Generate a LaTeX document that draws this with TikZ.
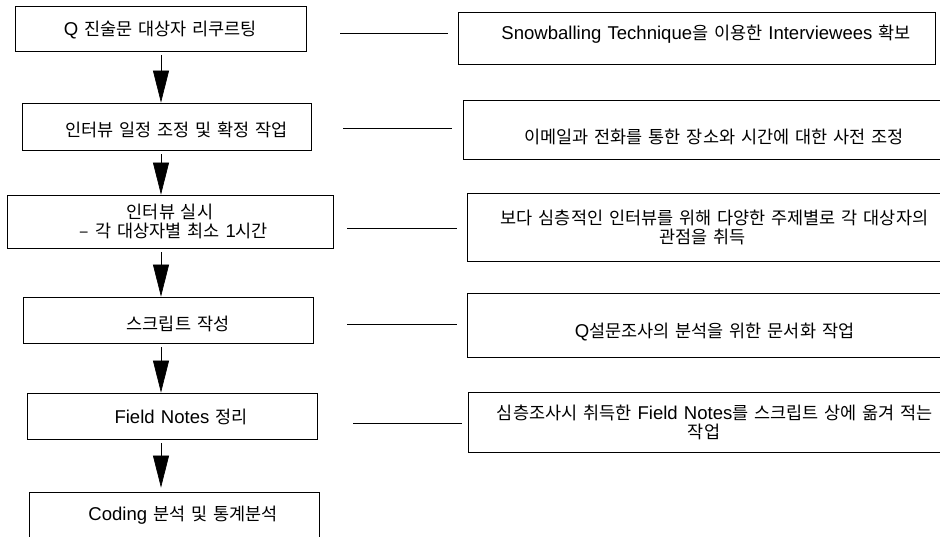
\documentclass[tikz,border=0pt]{standalone}
\usepackage{fontspec}
\setmainfont[WordSpace=1.5]{Noto Sans CJK KR}
\newfontfamily\lat[WordSpace=1.2,Scale=1.06]{Liberation Sans}
\usetikzlibrary{arrows.meta}
\newcommand\shiftv[2]{\raisebox{#1pt}[\height][\depth]{#2}}
\begin{document}
\begin{tikzpicture}[x=1pt,y=-1pt,
  every node/.style={font=\fontsize{17.5}{19}\selectfont},
  lbox/.style={draw=black,line width=0.8pt,rectangle,inner sep=0pt,align=center},
  rbox/.style={draw=black,line width=0.9pt,rectangle,inner sep=0pt,align=center},
  link/.style={draw=black,line width=0.8pt},
  flow/.style={draw=black,line width=0.6pt,-{Triangle[length=32pt,width=16pt]}}]
\useasboundingbox (0,0) rectangle (940,537);
\clip (0,0) rectangle (940,537);
\fill[white] (0,0) rectangle (940,537);
% left boxes
\node[lbox,minimum width=291pt,minimum height=45pt] (b1) at (160.5,28.5) {\shiftv{-2}{{\lat Q} 진술문 대상자 리쿠르팅}};
\node[lbox,minimum width=289pt,minimum height=47pt] (b2) at (166.5,126.5) {\hspace*{20pt}\shiftv{-3}{인터뷰 일정 조정 및 확정 작업}};
\node[lbox,minimum width=326pt,minimum height=53pt] (b3) at (170,221.5) {인터뷰 실시\\\hspace*{8pt}– 각 대상자별 최소 {\lat 1}시간};
\node[lbox,minimum width=290pt,minimum height=46pt] (b4) at (168,320) {\hspace*{20pt}\shiftv{-4}{스크립트 작성}};
\node[lbox,minimum width=290pt,minimum height=46pt] (b5) at (172,416) {\hspace*{18pt}\shiftv{-1}{{\lat Field Notes} 정리}};
\node[lbox,minimum width=290pt,minimum height=46pt] (b6) at (174,515) {\hspace*{18pt}{\lat Coding} 분석 및 통계분석};
% right boxes
\node[rbox,minimum width=477pt,minimum height=52pt] (r1) at (696.5,38) {\hspace*{19pt}\shiftv{3.5}{{\lat Snowballing Technique}을 이용한 {\lat Interviewees} 확보}};
\node[rbox,minimum width=502pt,minimum height=59pt] (r2) at (714,129.5) {\shiftv{-7}{이메일과 전화를 통한 장소와 시간에 대한 사전 조정}};
\node[rbox,minimum width=495pt,minimum height=68pt] (r3) at (714.5,227) {보다 심층적인 인터뷰를 위해 다양한 주제별로 각 대상자의\\관점을 취득\hspace*{24pt}};
\node[rbox,minimum width=495pt,minimum height=64pt] (r4) at (714.5,325) {\shiftv{-7}{{\lat Q}설문조사의 분석을 위한 문서화 작업}};
\node[rbox,minimum width=494pt,minimum height=60pt] (r5) at (715,422) {심층조사시 취득한 {\lat Field Notes}를 스크립트 상에 옮겨 적는\\작업\hspace*{22pt}};
% x of the flow arrows
\coordinate (ax) at (161,0);
\draw[flow] ([yshift=-4pt]b1.south -| ax) -- (b2.north -| ax);
\draw[flow] ([yshift=-4pt]b2.south -| ax) -- (b3.north -| ax);
\draw[flow] ([yshift=-4pt]b3.south -| ax) -- (b4.north -| ax);
\draw[flow] ([yshift=-4pt]b4.south -| ax) -- (b5.north -| ax);
\draw[flow] ([yshift=-4pt]b5.south -| ax) -- ([yshift=4pt]b6.north -| ax);
% side links
\draw[link,shorten <=34pt,shorten >=10pt] ([yshift=-4.5pt]b1.east) -- ([yshift=-4.5pt]b1.east -| r1.west);
\draw[link,shorten <=32pt,shorten >=11pt] ([yshift=-1.5pt]b2.east) -- ([yshift=-1.5pt]b2.east -| r2.west);
\draw[link,shorten <=14pt,shorten >=10pt] ([yshift=-6.5pt]b3.east) -- ([yshift=-6.5pt]b3.east -| r3.west);
\draw[link,shorten <=34pt,shorten >=10pt] ([yshift=-4pt]b4.east) -- ([yshift=-4pt]b4.east -| r4.west);
\draw[link,shorten <=36pt,shorten >=6pt] ([yshift=-7pt]b5.east) -- ([yshift=-7pt]b5.east -| r5.west);
\end{tikzpicture}
\end{document}
